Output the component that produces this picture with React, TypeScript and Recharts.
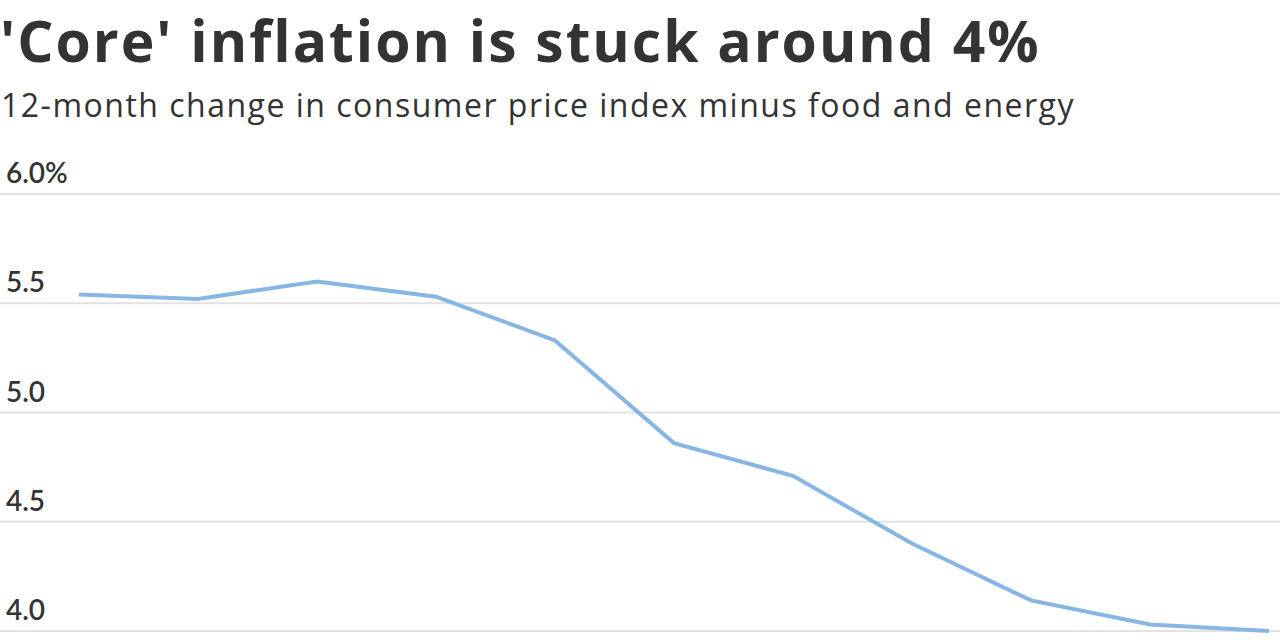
import React from "react";
import {LineChart, Line, CartesianGrid, XAxis, YAxis} from 'recharts';

const months = ['Jan', 'Feb', 'Mar', 'Apr', 'May', 'Jun', 'Jul', 'Aug', 'Sep', 'Oct', 'Nov'];
const coreCpi = [5.54, 5.52, 5.60, 5.53, 5.33, 4.86, 4.71, 4.40, 4.14, 4.03, 4.00];
const yTicks = [4, 4.5, 5, 5.5, 6];
const yTickLabels = ['4.0', '4.5', '5.0', '5.5', '6.0%'];

const data = months.map((m, i) => ({month: m, value: coreCpi[i]}));

const renderYTick = (props: any) => {
    const {y, payload} = props;
    const idx = yTicks.indexOf(payload.value);
    return (
        <text key={'t' + idx} x={6} y={y - 11} fill="#333" fontSize={28} fontWeight={600}
              fontFamily="Lato, sans-serif" textAnchor="start">
            {yTickLabels[idx]}
        </text>
    );
}

const App = () => {
    return (
        <div style={{position: 'absolute', left: 0, top: 0, width: 1280, height: 640, background: '#fff'}}>
            <div style={{position: 'absolute', left: 0, top: 5, fontFamily: '"Open Sans", sans-serif',
                fontWeight: 700, fontSize: 57, letterSpacing: 2, color: '#333', whiteSpace: 'nowrap',
                lineHeight: '70px'}}>
                'Core' inflation is stuck around 4%
            </div>
            <div style={{position: 'absolute', left: 1, top: 85, fontFamily: '"Open Sans", sans-serif',
                fontWeight: 400, fontSize: 32, letterSpacing: 1.5, color: '#333', whiteSpace: 'nowrap',
                lineHeight: '40px'}}>
                12-month change in consumer price index minus food and energy
            </div>
            <div style={{position: 'absolute', left: 0, top: 0}}>
                <LineChart width={1280} height={640} data={data}
                           margin={{top: 194, right: 0, left: -1, bottom: 9}}>
                    <CartesianGrid vertical={false} stroke="#e2e2e2" strokeWidth={2}/>
                    <XAxis dataKey="month" hide padding={{left: 79, right: 11}}/>
                    <YAxis width={1} domain={[4, 6]} ticks={yTicks} axisLine={false} tickLine={false}
                           tick={renderYTick} interval={0}/>
                    <Line type="linear" dataKey="value" stroke="#87b6e4" strokeWidth={4}
                          dot={false} isAnimationActive={false}/>
                </LineChart>
            </div>
        </div>
    );
}

export default App;
